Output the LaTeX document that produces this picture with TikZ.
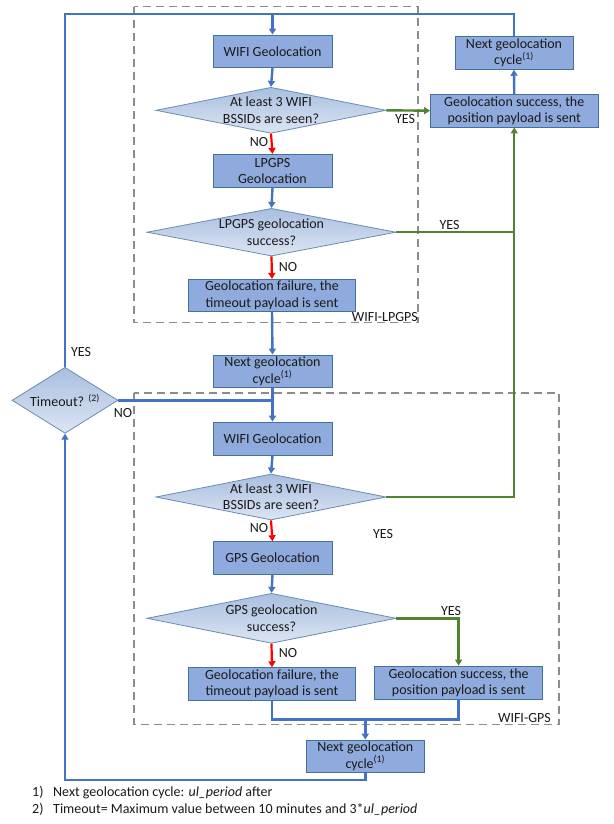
\documentclass[tikz,border=0pt]{standalone}
\usepackage{fontspec}
\setmainfont{Carlito}
\usetikzlibrary{shapes.geometric,arrows.meta,calc}

\definecolor{boxfill}{HTML}{8FAADC}
\definecolor{boxedge}{HTML}{41719C}
\definecolor{flowblue}{HTML}{4472C4}
\definecolor{flowgreen}{HTML}{548235}
\definecolor{flowred}{HTML}{FF0000}
\definecolor{framegrey}{HTML}{8C8C8C}
\definecolor{txt}{HTML}{1A1A1A}
\definecolor{dtop}{HTML}{A9BEE0}
\definecolor{dbot}{HTML}{DCE5F3}

\tikzset{
  basefont/.style={font=\fontsize{14}{16.3}\selectfont, text=txt},
  stepbox/.style={basefont, draw=boxedge, line width=0.8pt, fill=boxfill,
    inner sep=0pt, align=center},
  decision/.style={diamond, draw=boxedge!80, line width=0.8pt,
    top color=dtop, bottom color=dbot, inner sep=0pt},
  decisiontext/.style={basefont, align=center},
  tag/.style={basefont, inner sep=0pt},
  flowline/.style={draw=flowblue, line width=2.4pt},
  flow/.style={flowline, -{Triangle[width=7pt,length=6pt]}},
  greenline/.style={draw=flowgreen, line width=2.4pt},
  greenflow/.style={greenline, -{Triangle[width=7pt,length=6pt]}},
  redflow/.style={draw=flowred, line width=2.2pt, -{Triangle[width=7pt,length=6pt]}},
  groupframe/.style={draw=framegrey, line width=1.2pt, dash pattern=on 8pt off 5pt},
}

\begin{document}
\begin{tikzpicture}[x=1pt, y=-1pt]
  \path[use as bounding box, fill=white] (0,0) rectangle (613,824);

  % group frames
  \draw[groupframe] (134,6.7) rectangle (418,322.7);
  \draw[groupframe] (134,393) rectangle (559,724.3);
  \node[tag, anchor=east] (lblA) at (418,317.5) {WIFI-LPGPS};
  \node[tag, anchor=east] (lblB) at (551,717.7) {WIFI-GPS};

  % WIFI-LPGPS branch
  \node[stepbox, minimum width=119pt, minimum height=32.7pt] (w1) at (272.5,51.3) {WIFI Geolocation};
  \node[decision, minimum width=230pt, minimum height=46pt,
        label={[decisiontext]center:{At least 3 WIFI\\BSSIDs are seen?}}] (d1) at (271,110.3) {};
  \node[stepbox, minimum width=119pt, minimum height=33pt] (lp) at (272.5,170.8) {LPGPS\\Geolocation};
  \node[decision, minimum width=249pt, minimum height=47.7pt,
        label={[decisiontext]center:{LPGPS geolocation\\success?}}] (d2) at (271.5,232.2) {};
  \node[stepbox, minimum width=167pt, minimum height=32pt] (f1) at (272,295.3) {Geolocation failure, the\\timeout payload is sent};

  \node[stepbox, minimum width=167.5pt, minimum height=32.7pt] (s1) at (514.25,110.7) {Geolocation success, the\\position payload is sent};
  \node[stepbox, minimum width=118pt, minimum height=33.3pt] (nc1) at (514,52.7) {Next geolocation\\cycle\textsuperscript{(1)}};

  \node[stepbox, minimum width=119pt, minimum height=32.7pt] (nc2) at (272.5,371.3) {Next geolocation\\cycle\textsuperscript{(1)}};
  \node[decision, minimum width=106pt, minimum height=66pt,
        label={[decisiontext]center:{Timeout? \textsuperscript{(2)}}}] (to) at (65,400.3) {};

  % WIFI-GPS branch
  \node[stepbox, minimum width=119pt, minimum height=33pt] (w2) at (272.5,438.5) {WIFI Geolocation};
  \node[decision, minimum width=230pt, minimum height=46pt,
        label={[decisiontext]center:{At least 3 WIFI\\BSSIDs are seen?}}] (d3) at (271,497) {};
  \node[stepbox, minimum width=119pt, minimum height=32.3pt] (gps) at (272.5,557.8) {GPS Geolocation};
  \node[decision, minimum width=249pt, minimum height=50pt,
        label={[decisiontext]center:{GPS geolocation\\success?}}] (d4) at (271.5,618.3) {};
  \node[stepbox, minimum width=167pt, minimum height=32.3pt] (f2) at (272,683.8) {Geolocation failure, the\\timeout payload is sent};
  \node[stepbox, minimum width=168pt, minimum height=33pt] (s2) at (458.6,682.5) {Geolocation success, the\\position payload is sent};
  \node[stepbox, minimum width=118.6pt, minimum height=32.7pt] (nc3) at (365.3,756.3) {Next geolocation\\cycle\textsuperscript{(1)}};

  % branch labels
  \node[tag] (yA) at (405,119) {YES};
  \node[tag] (nA) at (259,141.7) {NO};
  \node[tag] (yB) at (449.5,225) {YES};
  \node[tag] (nB) at (288,266.7) {NO};
  \node[tag] (yT) at (81,352) {YES};
  \node[tag] (nT) at (123,413) {NO};
  \node[tag] (nC) at (259,528) {NO};
  \node[tag] (yC) at (383,534) {YES};
  \node[tag] (yD) at (451,611) {YES};
  \node[tag] (nD) at (288,653) {NO};

  % loop coordinates
  \coordinate (topright) at (514,14.3);
  \coordinate (merge) at (365.3,719.3);
  \coordinate (loopbottom) at (65,780);

  % connectors
  \draw[flowline] (to.north) |- (topright) -- (nc1.north);
  \draw[flow] (w1.north |- topright) -- (w1.north);
  \draw[flow] (w1.south) -- (d1.north);
  \draw[greenflow] (d1.east) -- (s1.west);
  \draw[redflow] (d1.south) -- (lp.north);
  \draw[flow] (lp.south) -- (d2.north);
  \draw[greenline] (d2.east) -- (d2.east -| s1.south);
  \draw[greenflow] (d3.east) -| (s1.south);
  \draw[flow] (s1.north) -- (nc1.south);
  \draw[redflow] (d2.south) -- (f1.north);
  \draw[flow] (f1.south) -- (nc2.north);
  \draw[flow] (nc2.south) -- (w2.north);
  \draw[flowline] (to.east) -- (to.east -| nc2.south);
  \draw[flow] (w2.south) -- (d3.north);
  \draw[redflow] (d3.south) -- (gps.north);
  \draw[flow] (gps.south) -- (d4.north);
  \draw[greenflow] (d4.east) -| (s2.north);
  \draw[redflow] (d4.south) -- (f2.north);
  \draw[flowline] (f2.south) |- (merge) -| (s2.south);
  \draw[flow] (merge) -- (nc3.north);
  \draw[flow] (nc3.south) |- (loopbottom) -- (to.south);

  % footnotes
  \node[tag, anchor=west] (fn1) at (32,792.7) {\makebox[21pt][l]{1)}Next geolocation cycle: \textit{ul\_period} after};
  \node[tag, anchor=west] (fn2) at (32,809.3) {\makebox[21pt][l]{2)}Timeout= Maximum value between 10 minutes and 3*\textit{ul\_period}};
\end{tikzpicture}
\end{document}
